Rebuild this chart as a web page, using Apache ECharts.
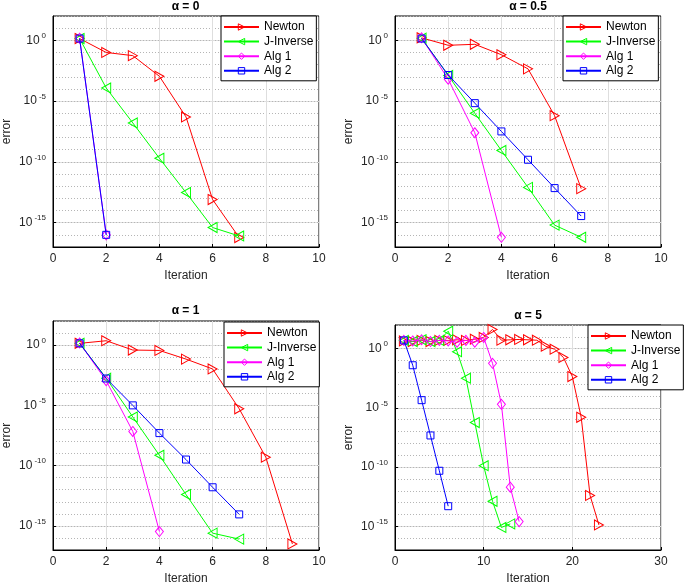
<!DOCTYPE html>
<html><head><meta charset="utf-8">
<script src="https://cdn.jsdelivr.net/npm/echarts@6/dist/echarts.min.js"></script>
<style>html,body{margin:0;padding:0;background:#fff}#c{width:685px;height:586px}</style>
</head><body><div id="c"></div>
<script>
// ---------- data ----------
const seriesNames = ['Newton', 'J-Inverse', 'Alg 1', 'Alg 2'];
const panelTitles = ['α = 0', 'α = 0.5', 'α = 1', 'α = 5'];
const xMaxes = [10, 10, 10, 30];
const xIntervals = [2, 2, 2, 10];
const yMajorTicks = [1e-15, 1e-10, 1e-5, 1];
const yMinorTicks = [1e-17, 1e-16, 1e-15, 1e-14, 1e-13, 1e-12, 1e-11, 1e-10, 1e-9, 1e-8, 1e-7, 1e-6, 1e-5, 1e-4, 1e-3, 1e-2, 1e-1, 1, 10, 100];

// alpha = 0  (error at iteration 1, 2, 3, ...)
const a0Newton   = [1.4, 0.1, 0.055, 1.1e-3, 5e-7, 8e-14, 6e-17];
const a0JInverse = [1.4, 1.2e-4, 1.6e-7, 2e-10, 3e-13, 4e-16, 8e-17];
const a0Alg1     = [1.5, 1e-16];
const a0Alg2     = [1.4, 1e-16];

// alpha = 0.5
const a05Newton   = [1.6, 0.39, 0.47, 0.065, 4.5e-3, 6.3e-7, 6.3e-13];
const a05JInverse = [1.5, 1.3e-3, 1e-6, 8.7e-10, 8e-13, 6.3e-16, 6.3e-17];
const a05Alg1     = [1.6, 6.3e-4, 2.5e-8, 6.3e-17];
const a05Alg2     = [1.4, 1.4e-3, 6.8e-6, 3.2e-8, 1.5e-10, 7e-13, 3.5e-15];

// alpha = 1
const a1Newton   = [1.4, 2.3, 0.39, 0.36, 0.069, 0.0105, 5.2e-6, 5e-10, 3.2e-17];
const a1JInverse = [1.4, 1.8e-3, 1.1e-6, 7.2e-10, 4e-13, 2.5e-16, 8e-17];
const a1Alg1     = [1.5, 1.1e-3, 6.9e-8, 3.4e-16];
const a1Alg2     = [1.4, 1.7e-3, 1e-5, 5e-8, 3.2e-10, 1.6e-12, 9e-15];

// alpha = 5
const a5Newton   = [4.5, 4.0, 5.0, 4.0, 5.0, 5.0, 5.6, 5.0, 6.3, 8.9, 42, 5.2, 5.6, 6.0, 5.6, 5.2, 1.6, 0.9, 0.18, 4.4e-3, 1.6e-6, 4e-13, 1.3e-15];
const a5JInverse = [5.0, 4.0, 5.6, 4.0, 5.0, 30, 0.56, 3.2e-3, 5.8e-7, 1.3e-10, 1.3e-13, 8e-16, 1.6e-15];
const a5Alg1     = [5.0, 4.5, 5.6, 4.0, 5.0, 4.5, 3.5, 5.0, 3.5, 8.9, 0.058, 2e-5, 2e-12, 2.5e-15];
const a5Alg2     = [5.0, 0.04, 4.5e-5, 4.7e-8, 4.9e-11, 5e-14];

const panelData = [
  [a0Newton, a0JInverse, a0Alg1, a0Alg2],
  [a05Newton, a05JInverse, a05Alg1, a05Alg2],
  [a1Newton, a1JInverse, a1Alg1, a1Alg2],
  [a5Newton, a5JInverse, a5Alg1, a5Alg2]
];

// ---------- layout / style ----------
const FONT = '"Liberation Sans", Arial, Helvetica, sans-serif';
const grids = [
  {left: 52, top: 16, width: 267, height: 231},
  {left: 395, top: 16, width: 266, height: 231},
  {left: 52, top: 321, width: 267, height: 229},
  {left: 395, top: 325, width: 266, height: 225}
];
const legendPos = [
  {left: 221, top: 16},
  {left: 563, top: 16},
  {left: 224, top: 322},
  {left: 588, top: 325}
];
const titleY = [1, 1, 305, 310];
const seriesStyles = [
  {color: '#ff0000', symbol: 'path://M0,0L10,5L0,10Z', size: [9, 10]},
  {color: '#00ff00', symbol: 'path://M10,0L0,5L10,10Z', size: [9, 10]},
  {color: '#ff00ff', symbol: 'path://M5,0L10,5L5,10L0,5Z', size: [8, 10]},
  {color: '#0000ff', symbol: 'rect', size: 7}
];

const option = {
  animation: false,
  backgroundColor: '#fff',
  textStyle: {fontFamily: FONT},
  title: [], grid: [], xAxis: [], yAxis: [], legend: [], series: []
};

grids.forEach((g, p) => {
  option.grid.push(Object.assign({show: true, borderColor: '#000', borderWidth: 1, backgroundColor: '#fff'}, g));
  option.title.push({
    text: panelTitles[p],
    left: g.left + g.width / 2, top: titleY[p], textAlign: 'center', padding: 0,
    textStyle: {fontFamily: FONT, fontSize: 12, fontWeight: 'bold', color: '#000'}
  });
  option.xAxis.push({
    type: 'value', gridIndex: p, min: 0, max: xMaxes[p], interval: xIntervals[p],
    name: 'Iteration', nameLocation: 'middle', nameGap: 23,
    nameTextStyle: {fontFamily: FONT, fontSize: 12, color: '#262626'},
    axisLine: {lineStyle: {color: '#000'}},
    axisTick: {inside: true, length: 3, lineStyle: {color: '#000'}},
    axisLabel: {fontFamily: FONT, fontSize: 12, color: '#262626', margin: 6},
    splitLine: {show: true, lineStyle: {color: '#dedede', width: 1}}
  });
  // major y axis (labels, solid grid)
  option.yAxis.push({
    type: 'log', logBase: 10, gridIndex: p, min: 1e-17, max: 100,
    name: 'error', nameLocation: 'middle', nameGap: 40, nameRotate: 90,
    nameTextStyle: {fontFamily: FONT, fontSize: 12, color: '#262626'},
    axisLine: {show: true, lineStyle: {color: '#000'}},
    axisTick: {show: true, inside: true, length: 3, customValues: yMajorTicks, lineStyle: {color: '#000'}},
    axisLabel: {
      customValues: yMajorTicks, margin: 7,
      formatter: v => '{b|10}{s|' + Math.round(Math.log10(v)) + '}',
      rich: {
        b: {fontFamily: FONT, fontSize: 12, color: '#262626'},
        s: {fontFamily: FONT, fontSize: 8, color: '#262626', padding: [0, 0, 9, 2]}
      }
    },
    splitLine: {show: true, lineStyle: {color: '#dedede', width: 1}}
  });
  // minor y axis (dotted decade grid)
  option.yAxis.push({
    type: 'log', logBase: 10, gridIndex: p, min: 1e-17, max: 100,
    axisLine: {show: false},
    axisTick: {show: false, customValues: yMinorTicks},
    axisLabel: {show: false, customValues: yMinorTicks},
    splitLine: {show: true, lineStyle: {color: '#b5b5b5', width: 1, type: [1, 2]}}
  });
  option.legend.push({
    orient: 'vertical', left: legendPos[p].left, top: legendPos[p].top,
    data: seriesNames,
    backgroundColor: '#fff', borderColor: '#000', borderWidth: 1,
    padding: [5, 3, 4, 2], itemGap: 2.6, itemWidth: 35, itemHeight: 8,
    itemStyle: {color: 'rgba(255,255,255,0)', borderWidth: 1},
    textStyle: {fontFamily: FONT, fontSize: 12, color: '#000', lineHeight: 12, padding: [0, 0, 0, 0]},
    selectedMode: false
  });
  panelData[p].forEach((vals, s) => {
    const st = seriesStyles[s];
    option.series.push({
      name: seriesNames[s], type: 'line',
      xAxisIndex: p, yAxisIndex: 2 * p,
      data: vals.map((v, i) => [i + 1, v]),
      symbol: st.symbol, symbolSize: st.size, showAllSymbol: true,
      lineStyle: {color: st.color, width: 1},
      itemStyle: {color: 'rgba(255,255,255,0)', borderColor: st.color, borderWidth: 1},
      emphasis: {disabled: true},
      z: 3 + s
    });
  });
});

const chart = echarts.init(document.getElementById('c'), null, {renderer: 'canvas'});
chart.setOption(option);
</script>
</body></html>
